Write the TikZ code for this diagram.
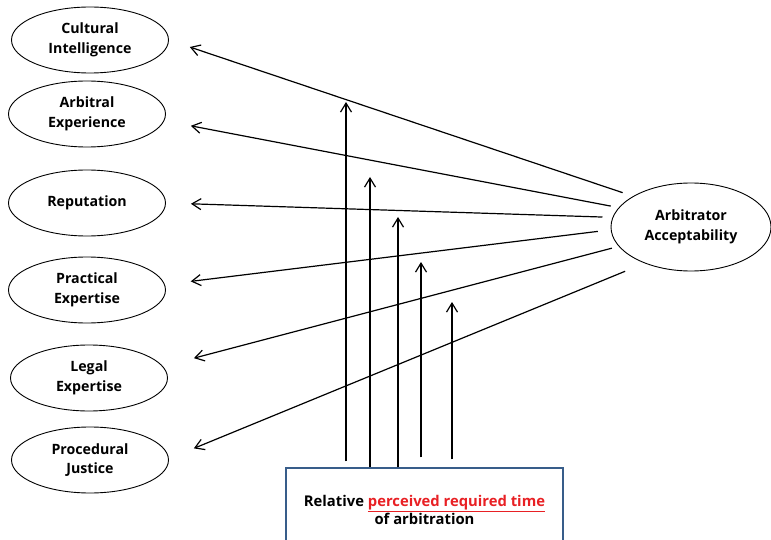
\documentclass[tikz,border=0pt]{standalone}
\usepackage{fontspec}
\setmainfont{Open Sans}
\usepackage{xcolor}
\usetikzlibrary{arrows.meta,calc,positioning,shapes.geometric}
\definecolor{boxblue}{RGB}{56,93,138}
\definecolor{accred}{RGB}{232,32,36}
\tikzset{%
	factor/.style  = {draw, ellipse, line width=0.9pt, minimum width=157pt, minimum height=66pt, inner sep=0pt, align=center, font=\fontsize{14.2}{19.5}\selectfont\bfseries},
	target/.style  = {factor, minimum width=160pt, minimum height=88pt},
	timebox/.style = {draw=boxblue, line width=1.2pt, rectangle, minimum width=277pt, minimum height=84pt, inner sep=0pt, align=center, font=\fontsize{14.8}{18.5}\selectfont\bfseries},
	arrow/.style   = {line width=1.2pt, -{Straight Barb[length=9pt,width=11pt]}},
}

\begin{document}
\begin{tikzpicture}[x=1pt,y=-1pt]
	\useasboundingbox (0,0) rectangle (771,540);
	
	% factors on the left
	\node[factor] (cult) at (90,40)  {Cultural\\Intelligence};
	\node[factor] (arb)  at (87,114) {Arbitral\\Experience};
	\node[factor] (rep)  at (87,203) {Reputation};
	\node[factor] (prac) at (87,290) {Practical\\Expertise};
	\node[factor] (leg)  at (89,378) {Legal\\Expertise};
	\node[factor] (proc) at (90,460) {Procedural\\Justice};
	
	\node[target] (acc) at (691,227) {Arbitrator\\Acceptability};
	
	\node[timebox] (time) at (424.5,510) {Relative \textcolor{accred}{\underline{perceived required time}}\\of arbitration};
	
	% acceptability -> factors
	\draw[arrow, shorten <=11pt, shorten >=22pt] (acc.152)   -- (cult.east);
	\draw[arrow, shorten <=8pt,  shorten >=27pt] (acc.165)   -- (arb.-5);
	\draw[arrow, shorten <=10pt, shorten >=25pt] (acc.173.7) -- (rep.east);
	\draw[arrow, shorten <=13pt, shorten >=26pt] (acc.182.4) -- (prac.4);
	\draw[arrow, shorten <=7pt,  shorten >=32pt] (acc.195.9) -- (leg.9);
	\draw[arrow, shorten <=21pt, shorten >=27pt] (acc.218)   -- (proc.1);
	
	% moderating arrows
	\coordinate (m1) at (346,102);
	\coordinate (m2) at (370,177);
	\coordinate (m3) at (398,217);
	\coordinate (m4) at (421,262);
	\coordinate (m5) at (452,302);
	\draw[arrow, shorten <=6pt]  (m1 |- time.north) -- (m1);
	\draw[arrow]                 (m2 |- time.north) -- (m2);
	\draw[arrow]                 (m3 |- time.north) -- (m3);
	\draw[arrow, shorten <=10pt] (m4 |- time.north) -- (m4);
	\draw[arrow, shorten <=8pt]  (m5 |- time.north) -- (m5);
	
\end{tikzpicture}
\end{document}
